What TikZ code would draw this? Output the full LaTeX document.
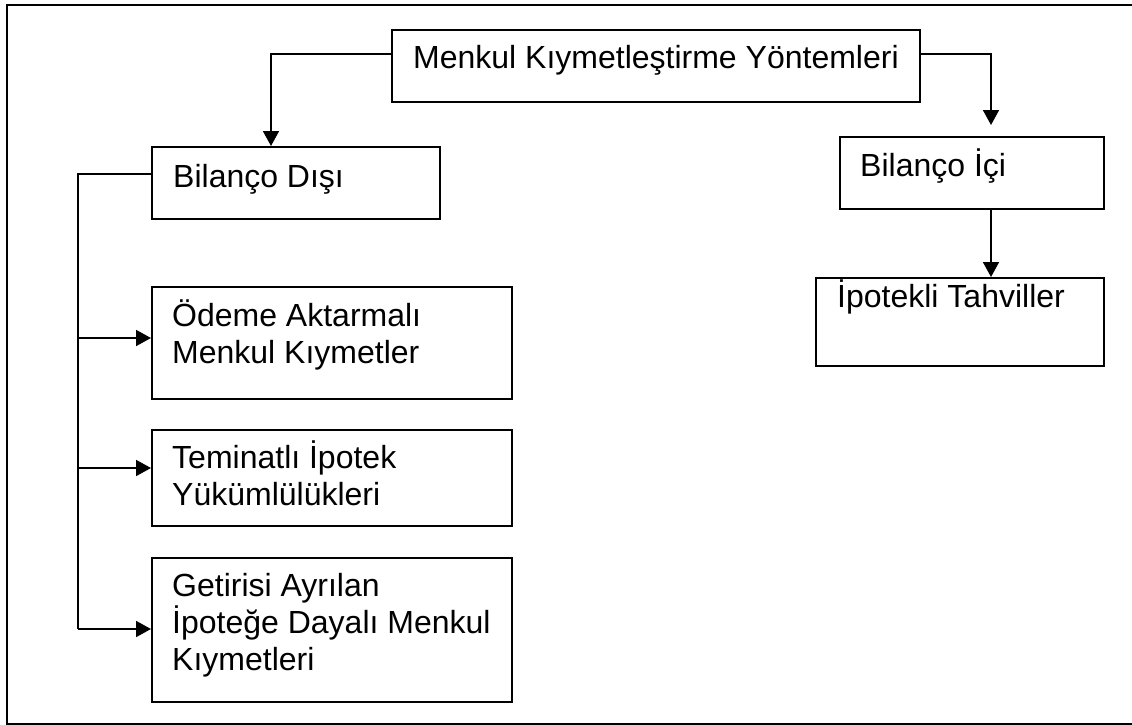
\documentclass[tikz,border=0pt]{standalone}
\usepackage{fontspec}
\setmainfont{Liberation Sans}
\usetikzlibrary{arrows.meta,calc}
\begin{document}
\begin{tikzpicture}[x=1pt,y=-1pt,
  box/.style={draw,line width=1.8pt,rectangle,inner sep=0pt,anchor=north west},
  lbl/.style={anchor=base west,inner sep=0pt,align=left,font=\fontsize{32}{37}\selectfont},
  link/.style={line width=1.8pt},
  arr/.style={link,-{Triangle[length=15pt,width=16pt]}}]
\useasboundingbox (0,0) rectangle (1132,725);
\draw[line width=1.6pt] (1140,5) -- (7,5) -- (7,724) -- (1140,724);
% boxes
\node[box,minimum width=528pt,minimum height=72pt] (top) at (391,29) {};
\node[box,minimum width=288pt,minimum height=72pt] (bd) at (151,146) {};
\node[box,minimum width=264pt,minimum height=72pt] (bi) at (839,136) {};
\node[box,minimum width=288pt,minimum height=88pt] (ip) at (815,277) {};
\node[box,minimum width=360pt,minimum height=112pt] (od) at (151,286) {};
\node[box,minimum width=360pt,minimum height=96pt] (tem) at (151,429) {};
\node[box,minimum width=360pt,minimum height=144pt] (get) at (151,557) {};
% labels (base anchor = baseline of the last line)
\node[lbl] (ttop) at (413,68) {Menkul Kıymetleştirme Yöntemleri};
\node[lbl] (tbd) at (173,187) {Bilanço Dışı};
\node[lbl] (tbi) at (860,176) {Bilanço İçi};
\node[lbl] (tip) at (837,307) {İpotekli Tahviller};
\node[lbl] (tod) at (172,363) {Ödeme Aktarmalı\\Menkul Kıymetler};
\node[lbl] (ttem) at (172,505) {Teminatlı İpotek\\Yükümlülükleri};
\node[lbl] (tget) at (172,670) {Getirisi Ayrılan\\İpoteğe Dayalı Menkul\\Kıymetleri};
% connectors
\coordinate (bdin) at ($(bd.north west)+(120,0)$);
\draw[arr] ([yshift=12pt]top.west) -| (bdin);
\coordinate (biin) at ($(bi.north west)+(152,-11)$);
\draw[arr] ([yshift=12pt]top.east) -| (biin);
\draw[arr] ($(bi.south west)+(152,0)$) -- ($(ip.north west)+(176,0)$);
\coordinate (busend) at (78,629);
\draw[link] ([yshift=9pt]bd.west) -| (busend);
\coordinate (b1) at (78,338);
\coordinate (b2) at (78,468);
\draw[arr] (b1) -- (b1 -| od.west);
\draw[arr] (b2) -- (b2 -| tem.west);
\draw[arr] (busend) -- (busend -| get.west);
\end{tikzpicture}
\end{document}
